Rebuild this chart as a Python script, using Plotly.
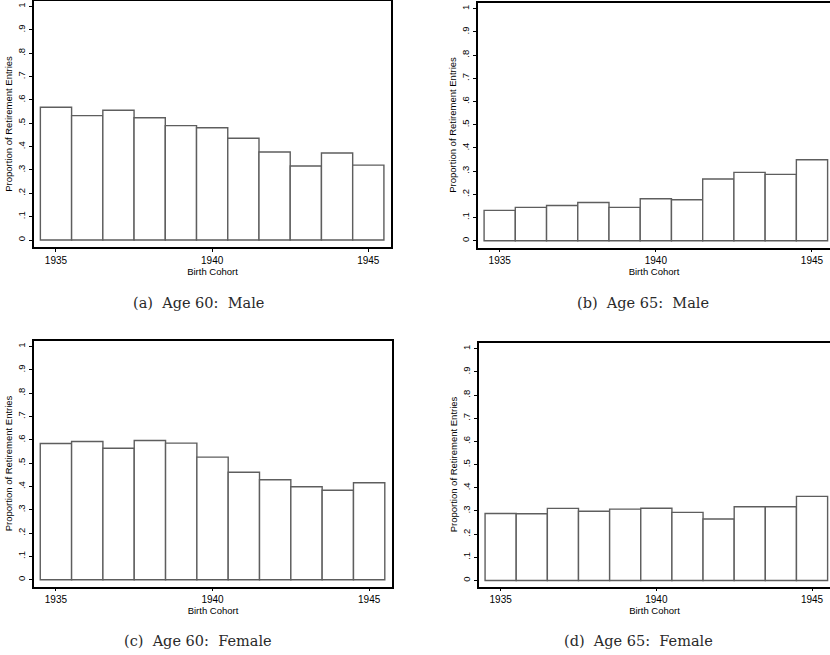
import plotly.graph_objects as go

cohorts = [1935, 1936, 1937, 1938, 1939, 1940, 1941, 1942, 1943, 1944, 1945]
age60_male = [0.569, 0.533, 0.556, 0.524, 0.490, 0.481, 0.436, 0.377, 0.317, 0.373, 0.321]
age65_male = [0.131, 0.144, 0.152, 0.165, 0.144, 0.181, 0.177, 0.266, 0.295, 0.286, 0.349]
age60_female = [0.584, 0.593, 0.564, 0.597, 0.586, 0.526, 0.461, 0.429, 0.399, 0.384, 0.416]
age65_female = [0.289, 0.288, 0.311, 0.299, 0.308, 0.312, 0.294, 0.265, 0.318, 0.318, 0.363]

y_tickvals = [0, 0.1, 0.2, 0.3, 0.4, 0.5, 0.6, 0.7, 0.8, 0.9, 1]
y_ticktext = ["0", ".1", ".2", ".3", ".4", ".5", ".6", ".7", ".8", ".9", "1"]
x_tickvals = [1935, 1940, 1945]
captions = ["(a)\u00a0 Age 60:\u00a0 Male", "(b)\u00a0 Age 65:\u00a0 Male",
            "(c)\u00a0 Age 60:\u00a0 Female", "(d)\u00a0 Age 65:\u00a0 Female"]
series = [age60_male, age65_male, age60_female, age65_female]

W, H = 830, 655

# pixel boxes: left, right, top, bottom(axis line)
boxes = [
    (34, 391, 1, 247),
    (478, 830, 2.5, 247.5),
    (34, 392, 340.5, 586.5),
    (479, 830, 342.5, 586.5),
]
xranges = [
    (1934.296, 1945.727),
    (1934.305, 1945.577),
    (1934.30, 1945.73),
    (1934.305, 1945.577),
]
yranges = [
    (-0.030, 1.024),
    (-0.029, 1.027),
    (-0.029, 1.026),
    (-0.026, 1.027),
]
caption_pos = [(198.5, 303), (643, 303), (197.5, 641), (638.5, 641)]

fig = go.Figure()
layout = dict(
    width=W, height=H,
    margin=dict(l=0, r=0, t=0, b=0),
    paper_bgcolor="white", plot_bgcolor="white",
    showlegend=False,
    font=dict(family="Liberation Sans, Arial, sans-serif", color="black"),
)
annotations = []
for i in range(4):
    n = "" if i == 0 else str(i + 1)
    l, r, t, b = boxes[i]
    fig.add_trace(go.Bar(
        x=cohorts, y=series[i], width=1,
        marker=dict(color="white", line=dict(color="#5e5e5e", width=1.4)),
        xaxis="x" + n, yaxis="y" + n, hoverinfo="x+y",
    ))
    layout["xaxis" + n] = dict(
        domain=[l / W, min(r / W, 1.0)], anchor="y" + n,
        range=list(xranges[i]), tickvals=x_tickvals,
        ticks="outside", ticklen=3, tickwidth=1, tickcolor="black",
        showline=True, linecolor="black", linewidth=1.6, mirror=True,
        showgrid=False, zeroline=False,
        tickfont=dict(size=10),
        title=dict(text="Birth Cohort", font=dict(size=9.5), standoff=0),
    )
    layout["yaxis" + n] = dict(
        domain=[1 - b / H, 1 - t / H], anchor="x" + n,
        range=list(yranges[i]), tickvals=y_tickvals, ticktext=y_ticktext,
        tickangle=-90,
        ticks="outside", ticklen=3, tickwidth=1, tickcolor="black",
        showline=True, linecolor="black", linewidth=1.6,
        mirror=(i % 2 == 0),
        showgrid=False, zeroline=False,
        tickfont=dict(size=9.5),
        title=dict(text="Proportion of Retirement Entries", font=dict(size=9.5), standoff=2),
    )
    cx, cy = caption_pos[i]
    annotations.append(dict(
        text=captions[i], x=cx / W, y=1 - cy / H, xref="paper", yref="paper",
        xanchor="center", yanchor="middle", showarrow=False,
        font=dict(family="DejaVu Serif, serif", size=14.5, color="#2a2a2a"),
    ))
layout["annotations"] = annotations
fig.update_layout(**layout)
fig.write_html("out.html", config={"displayModeBar": False},
               post_script="document.body.style.margin='0px';")
